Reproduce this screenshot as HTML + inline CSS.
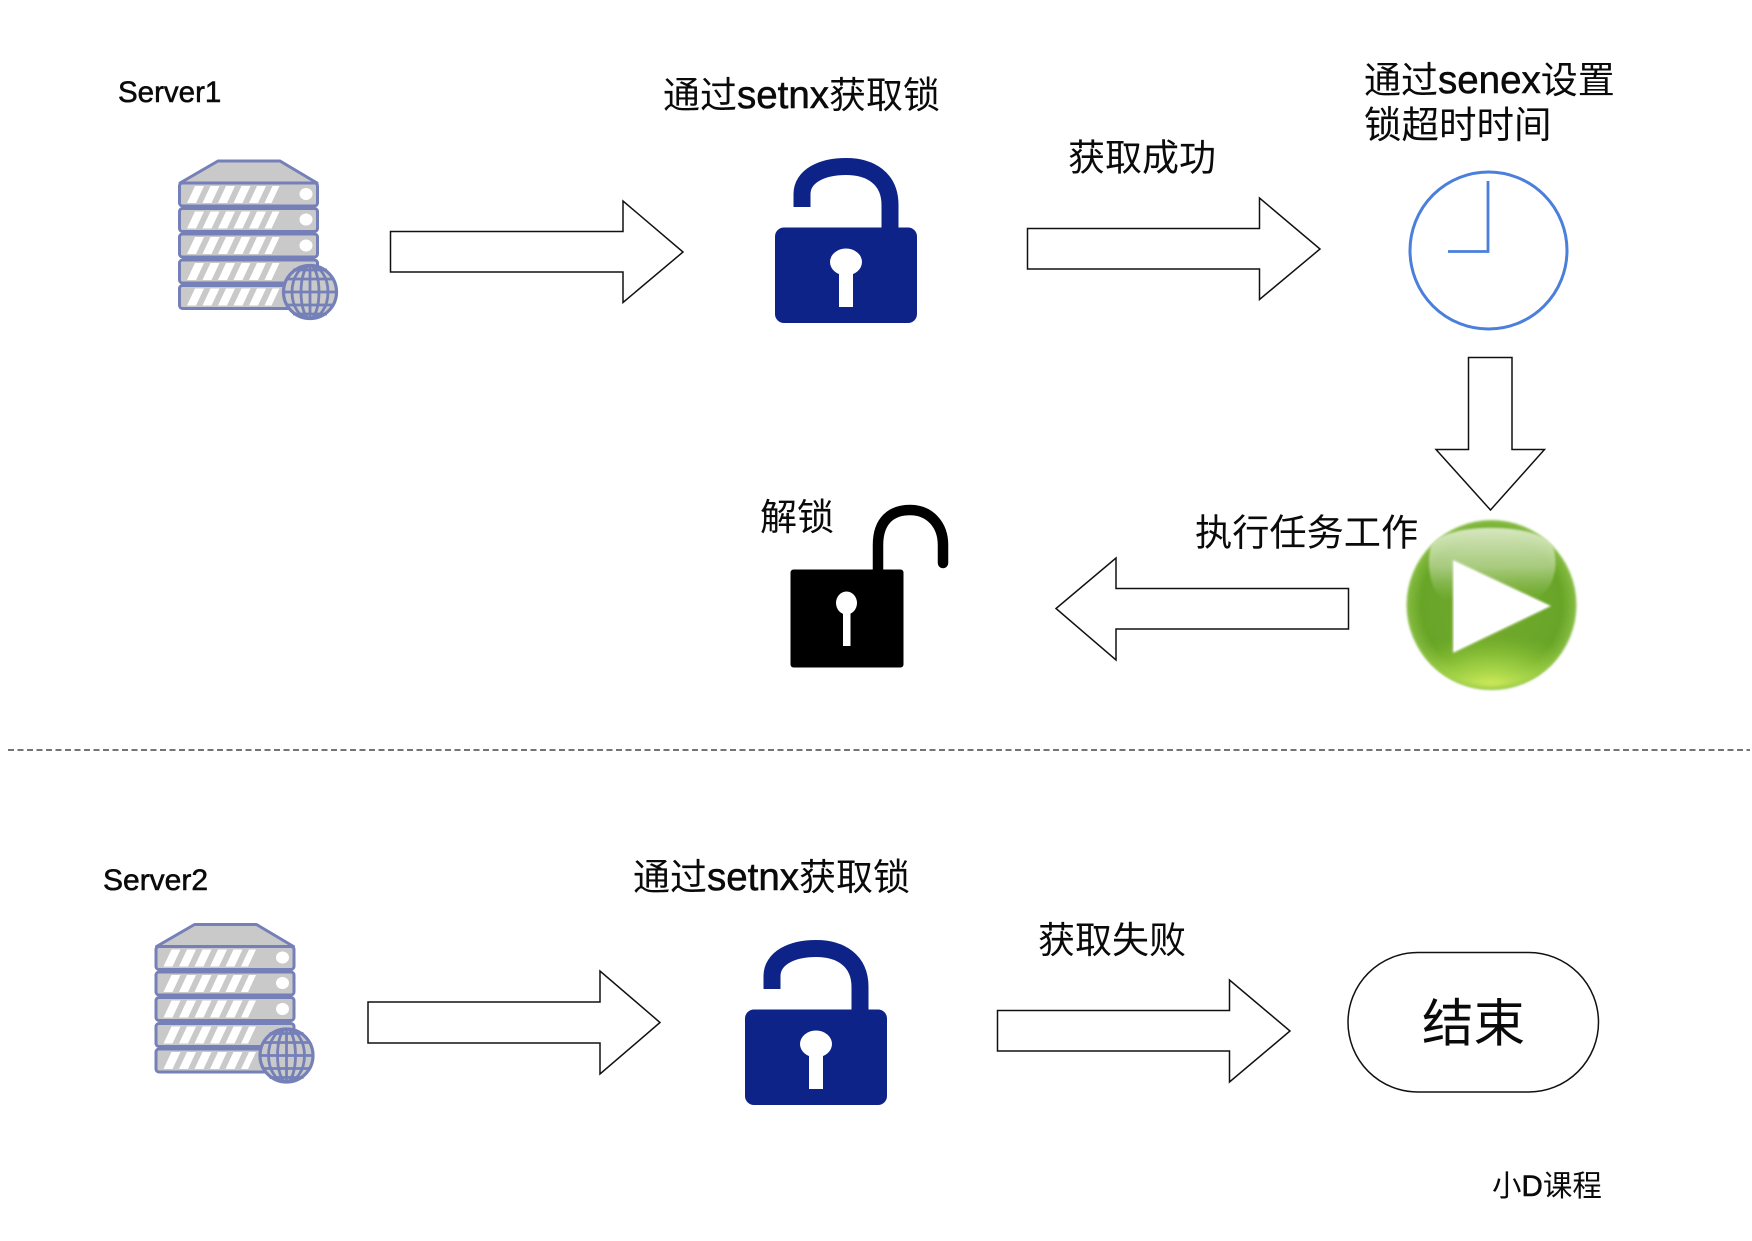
<!DOCTYPE html>
<html><head><meta charset="utf-8">
<style>
html,body{margin:0;padding:0;background:#fff}
svg{display:block}
text{font-family:"Liberation Sans","Noto Sans CJK SC",sans-serif;fill:#0a0a0a}
.l{stroke:#0a0a0a;stroke-width:.55px}
</style></head>
<body>
<svg width="1752" height="1241" viewBox="0 0 1752 1241" xmlns="http://www.w3.org/2000/svg">
<defs>
<g id="row">
  <rect x="179.5" y="0" width="138" height="23" rx="3" fill="#c9c9c9" stroke="#7580b8" stroke-width="3"/>
  <path d="M187 20L195 3H204L196 20ZM202.500 20L210.500 3H219.500L211.500 20ZM218 20L226 3H235L227 20ZM233.500 20L241.500 3H250.500L242.500 20ZM249 20L257 3H266L258 20ZM264.500 20L272.500 3H279.500L271.500 20Z" fill="#fff"/>
</g>
<g id="server">
  <path d="M180 183L218 161H280L317 183Z" fill="#c9c9c9" stroke="#7580b8" stroke-width="3" stroke-linejoin="round"/>
  <use href="#row" y="183"/>
  <use href="#row" y="208.500"/>
  <use href="#row" y="234"/>
  <use href="#row" y="260"/>
  <use href="#row" y="285.500"/>
  <ellipse cx="306" cy="194" rx="6.500" ry="6" fill="#fff"/>
  <ellipse cx="306" cy="219.500" rx="6.500" ry="6" fill="#fff"/>
  <ellipse cx="306" cy="245.500" rx="6.500" ry="6" fill="#fff"/>
  <g fill="none" stroke="#7580b8" stroke-width="2.800">
    <circle cx="310" cy="292" r="26.500" fill="#c9c9c9" stroke-width="3.200"/>
    <ellipse cx="310" cy="292" rx="9" ry="26.500"/>
    <ellipse cx="310" cy="292" rx="18" ry="26.500"/>
    <path d="M310 265V319M283 292H337M286 279H334M286 305H334M293 270H327M293 314H327"/>
  </g>
</g>
<g id="bluelock">
  <path d="M802 207V194C802 176 822 166.500 846 166.500C870 166.500 890 178 890 205V235" fill="none" stroke="#0d2388" stroke-width="17"/>
  <rect x="775" y="227.500" width="142" height="95.500" rx="9" fill="#0d2388"/>
  <ellipse cx="846" cy="262" rx="16" ry="13.500" fill="#fff"/>
  <rect x="839" y="265" width="14" height="42" fill="#fff"/>
</g>
<radialGradient id="ball" cx="50%" cy="50%" r="52%">
  <stop offset="0" stop-color="#74aa30"/>
  <stop offset="0.8" stop-color="#68a528"/>
  <stop offset="0.93" stop-color="#80b83c"/>
  <stop offset="1" stop-color="#a6d06a"/>
</radialGradient>
<linearGradient id="shine" x1="0" y1="0" x2="0" y2="1">
  <stop offset="0" stop-color="#dcebc8" stop-opacity=".95"/>
  <stop offset="0.55" stop-color="#cfe2b4" stop-opacity=".6"/>
  <stop offset="1" stop-color="#a8cf78" stop-opacity="0"/>
</linearGradient>
<radialGradient id="glow" cx="50%" cy="100%" r="75%">
  <stop offset="0" stop-color="#d8f060"/>
  <stop offset="0.5" stop-color="#a8d848" stop-opacity=".7"/>
  <stop offset="1" stop-color="#8ec430" stop-opacity="0"/>
</radialGradient>
<filter id="soft" x="-10%" y="-10%" width="120%" height="120%"><feGaussianBlur stdDeviation="1"/></filter>
<filter id="soft2" x="-10%" y="-10%" width="120%" height="120%"><feGaussianBlur stdDeviation="3"/></filter>
</defs>
<rect width="1752" height="1241" fill="#fff"/>

<!-- Server 1 -->
<use href="#server"/>
<text class="l" x="118" y="102" font-size="29.500">Server1</text>
<path d="M390.500 231.500H623V201L683 252L623 302.500V272H390.500Z" fill="#fff" stroke="#111" stroke-width="1.500"/>

<!-- top lock -->
<text x="663" y="108" font-size="37">通过<tspan class="l" font-size="38.500">setnx</tspan>获取锁</text>
<use href="#bluelock"/>

<!-- arrow 2 -->
<text x="1068" y="170.500" font-size="37">获取成功</text>
<path d="M1027.500 228.500H1259.500V198L1320 249L1259.500 299.500V269H1027.500Z" fill="#fff" stroke="#111" stroke-width="1.500"/>

<!-- clock -->
<text x="1364" y="93" font-size="37">通过<tspan class="l" font-size="38.500">senex</tspan>设置</text>
<text x="1364" y="138" font-size="37.500">锁超时时间</text>
<circle cx="1488.500" cy="250.500" r="78.500" fill="#fff" stroke="#4a7fdc" stroke-width="3"/>
<path d="M1488 181V251.500H1448" fill="none" stroke="#4a7fdc" stroke-width="2.800"/>

<!-- down arrow -->
<path d="M1468.500 357.500H1512V449.500H1544.500L1490.500 510L1436 449.500H1468.500Z" fill="#fff" stroke="#111" stroke-width="1.500"/>

<!-- play -->
<clipPath id="ballclip"><circle cx="1491.500" cy="605" r="85"/></clipPath>
<circle cx="1491.500" cy="605" r="85" fill="url(#ball)" filter="url(#soft)"/>
<g clip-path="url(#ballclip)">
  <ellipse cx="1491" cy="652" rx="70" ry="36" fill="url(#glow)" filter="url(#soft2)"/>
  <path d="M1431 545C1445 522 1537 522 1553 545C1560 570 1552 590 1535 600C1500 590 1470 590 1443 600C1430 590 1426 565 1431 545Z" fill="url(#shine)" filter="url(#soft)"/>
</g>
<path d="M1453 560L1551 606L1453 653Z" fill="#fff" filter="url(#soft)" opacity=".98"/>
<path d="M1454 562L1548 606L1454 651Z" fill="#fff"/>
<text x="1195" y="545.500" font-size="37.200">执行任务工作</text>

<!-- left arrow -->
<path d="M1348.500 588.500H1116V558L1056 608.500L1116 660V629H1348.500Z" fill="#fff" stroke="#111" stroke-width="1.500"/>

<!-- black lock -->
<text x="760" y="530" font-size="37">解锁</text>
<path d="M878 575V545C878 520 892 510 910 510C930 510 943 525 943 545V563" fill="none" stroke="#000" stroke-width="10.500" stroke-linecap="round"/>
<rect x="790.500" y="569.500" width="113" height="98" rx="3" fill="#000"/>
<ellipse cx="846.500" cy="603" rx="10.500" ry="11.500" fill="#fff"/>
<rect x="843" y="606" width="7.500" height="40" fill="#fff"/>

<!-- dashed -->
<line x1="8" y1="750" x2="1750" y2="750" stroke="#222" stroke-width="1.300" stroke-dasharray="6 3.500"/>

<!-- Server 2 -->
<use href="#server" x="-23.500" y="763.500"/>
<text class="l" x="103" y="890" font-size="30">Server2</text>
<path d="M368 1002H600V971L660 1022.500L600 1074V1043H368Z" fill="#fff" stroke="#111" stroke-width="1.500"/>

<text x="633" y="890" font-size="37">通过<tspan class="l" font-size="38.500">setnx</tspan>获取锁</text>
<use href="#bluelock" x="-30" y="782"/>

<text x="1038" y="953" font-size="37">获取失败</text>
<path d="M997.500 1010.500H1229.500V980L1290 1031L1229.500 1082V1051H997.500Z" fill="#fff" stroke="#111" stroke-width="1.500"/>

<rect x="1348" y="952.500" width="250.500" height="139.500" rx="69.750" fill="#fff" stroke="#111" stroke-width="1.500"/>
<text x="1473.500" y="1041.500" font-size="51.500" text-anchor="middle">结束</text>

<text x="1492" y="1196" font-size="29.500">小<tspan class="l">D</tspan>课程</text>
</svg>
</body></html>
